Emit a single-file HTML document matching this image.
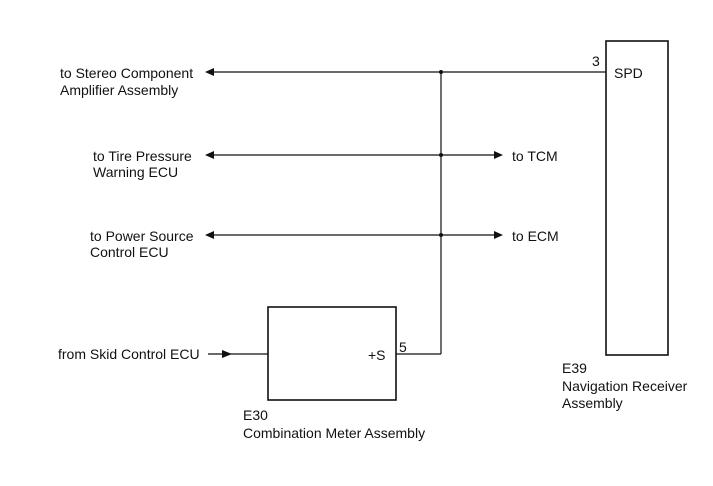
<!DOCTYPE html>
<html><head><style>
body{margin:0;background:#fff;}
svg text{font-family:"Liberation Sans",Arial,sans-serif;font-size:14px;fill:#111;}
</style></head><body>
<svg width="713" height="481" viewBox="0 0 713 481" xmlns="http://www.w3.org/2000/svg">
<g stroke="#111" stroke-width="1.2" fill="none">
<line x1="213" y1="72" x2="606" y2="72"/>
<line x1="213" y1="155" x2="495" y2="155"/>
<line x1="213" y1="235" x2="495" y2="235"/>
<line x1="441" y1="72" x2="441" y2="354"/>
<line x1="396" y1="354" x2="441" y2="354"/>
<line x1="208" y1="354" x2="268" y2="354"/>
<rect x="606" y="41" width="62" height="314" stroke-width="1.6"/>
<rect x="268" y="307" width="128" height="93" stroke-width="1.6"/>
</g>
<g fill="#111">
<polygon points="205,72 214,68 214,76"/>
<polygon points="205,155 214,151 214,159"/>
<polygon points="205,235 214,231 214,239"/>
<polygon points="503,155 494,151 494,159"/>
<polygon points="503,235 494,231 494,239"/>
<polygon points="232,354 222,350 222,358"/>
<circle cx="441" cy="72" r="2"/>
<circle cx="441" cy="155" r="2"/>
<circle cx="441" cy="235" r="2"/>
</g>
<text x="60" y="78">to Stereo Component</text>
<text x="60" y="95">Amplifier Assembly</text>
<text x="93" y="161">to Tire Pressure</text>
<text x="93" y="177">Warning ECU</text>
<text x="90" y="241">to Power Source</text>
<text x="90" y="257">Control ECU</text>
<text x="512" y="161">to TCM</text>
<text x="512" y="241">to ECM</text>
<text x="592" y="66">3</text>
<text x="614" y="78">SPD</text>
<text x="58" y="359">from Skid Control ECU</text>
<text x="368" y="360">+S</text>
<text x="399" y="352">5</text>
<text x="243" y="420">E30</text>
<text x="243" y="438">Combination Meter Assembly</text>
<text x="562" y="373">E39</text>
<text x="562" y="391">Navigation Receiver</text>
<text x="562" y="408">Assembly</text>
</svg>
</body></html>
